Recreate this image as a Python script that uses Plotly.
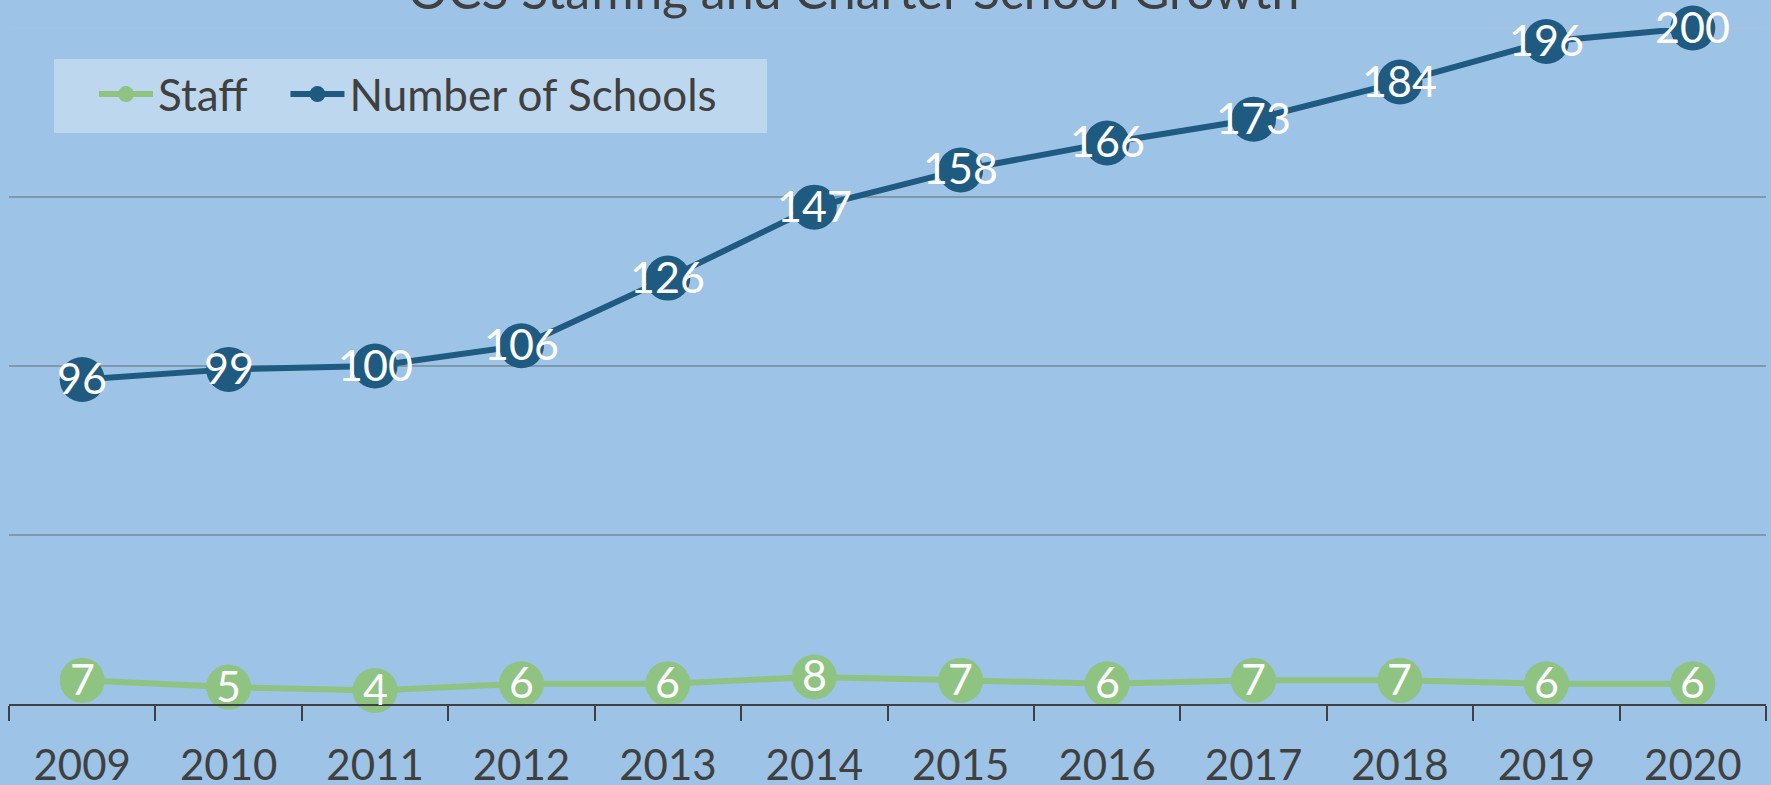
import plotly.graph_objects as go

years = ["2009", "2010", "2011", "2012", "2013", "2014", "2015", "2016", "2017", "2018", "2019", "2020"]
staff = [7, 5, 4, 6, 6, 8, 7, 6, 7, 7, 6, 6]
schools = [96, 99, 100, 106, 126, 147, 158, 166, 173, 184, 196, 200]
title_text = "OCS Staffing and Charter School Growth"

BG = "#9DC3E6"
LEGBG = "#BDD7EE"
GREEN = "#8FC382"
BLUE = "#1F5A80"
FONT = "Lato, Carlito, Calibri, sans-serif"
W, H = 1771, 785
L, R, T, B = 9, 5, 28, 81
PW, PH = W - L - R, H - T - B


def px_x(v):
    return (v - L) / PW


def px_y(v):
    return 1 - (v - T) / PH


fig = go.Figure()
fig.add_trace(go.Scatter(
    x=years, y=staff, name="Staff\u00a0\u00a0\u00a0", mode="lines+markers",
    line=dict(color=GREEN, width=6),
    marker=dict(color=GREEN, size=45),
    cliponaxis=False,
))
fig.add_trace(go.Scatter(
    x=years, y=schools, name="Number of Schools", mode="lines+markers",
    line=dict(color=BLUE, width=6),
    marker=dict(color=BLUE, size=45),
    cliponaxis=False,
))

# data labels (white, centred on markers); x given as category index
for series in (staff, schools):
    for i, v in enumerate(series):
        fig.add_annotation(
            x=i, y=v, xref="x", yref="y", text=str(v), showarrow=False,
            xanchor="center", yanchor="middle", yshift=2,
            font=dict(color="white", size=43, family=FONT),
        )

fig.add_shape(type="line", xref="paper", yref="y", x0=0, x1=1, y0=200, y1=200,
              line=dict(color="#B4C2CF", width=1.5), layer="below")
# legend background box
fig.add_shape(type="rect", xref="paper", yref="paper",
              x0=px_x(54), x1=px_x(767), y0=px_y(133), y1=px_y(59),
              fillcolor=LEGBG, line=dict(width=0), layer="below")

fig.add_annotation(
    text=title_text, xref="paper", yref="paper",
    x=px_x(853), y=1 + (T - 22) / PH,
    xanchor="center", yanchor="bottom", showarrow=False,
    font=dict(size=50, color="#404040", family=FONT),
)

fig.update_layout(
    width=W, height=H,
    margin=dict(l=L, r=R, t=T, b=B, pad=0, autoexpand=False),
    paper_bgcolor=BG, plot_bgcolor=BG,
    font=dict(family=FONT, color="#404040"),
    showlegend=True,
    legend=dict(
        orientation="h", xref="paper", yref="paper",
        x=px_x(94), y=px_y(59), xanchor="left", yanchor="top",
        bgcolor="rgba(0,0,0,0)", font=dict(size=44, color="#404040", family=FONT),
        itemsizing="trace", itemwidth=54,
        borderwidth=0,
    ),
)
fig.update_xaxes(
    type="category", range=[-0.5, 11.5],
    showgrid=False, showline=True, linecolor="#404040", linewidth=2,
    ticks="outside", tickson="boundaries", ticklen=15, tickwidth=1.5, tickcolor="#404040",
    tickfont=dict(size=42, color="#404040", family=FONT),
    ticklabelstandoff=24, automargin=False,
)
fig.update_yaxes(
    range=[0, 200], tickvals=[50, 100, 150], showticklabels=False,
    showgrid=True, gridcolor="#7F98AC", gridwidth=1.5, zeroline=False,
    automargin=False,
)

fig.write_html("out.html", config={"displayModeBar": False},
               post_script="document.body.style.margin='0';")
